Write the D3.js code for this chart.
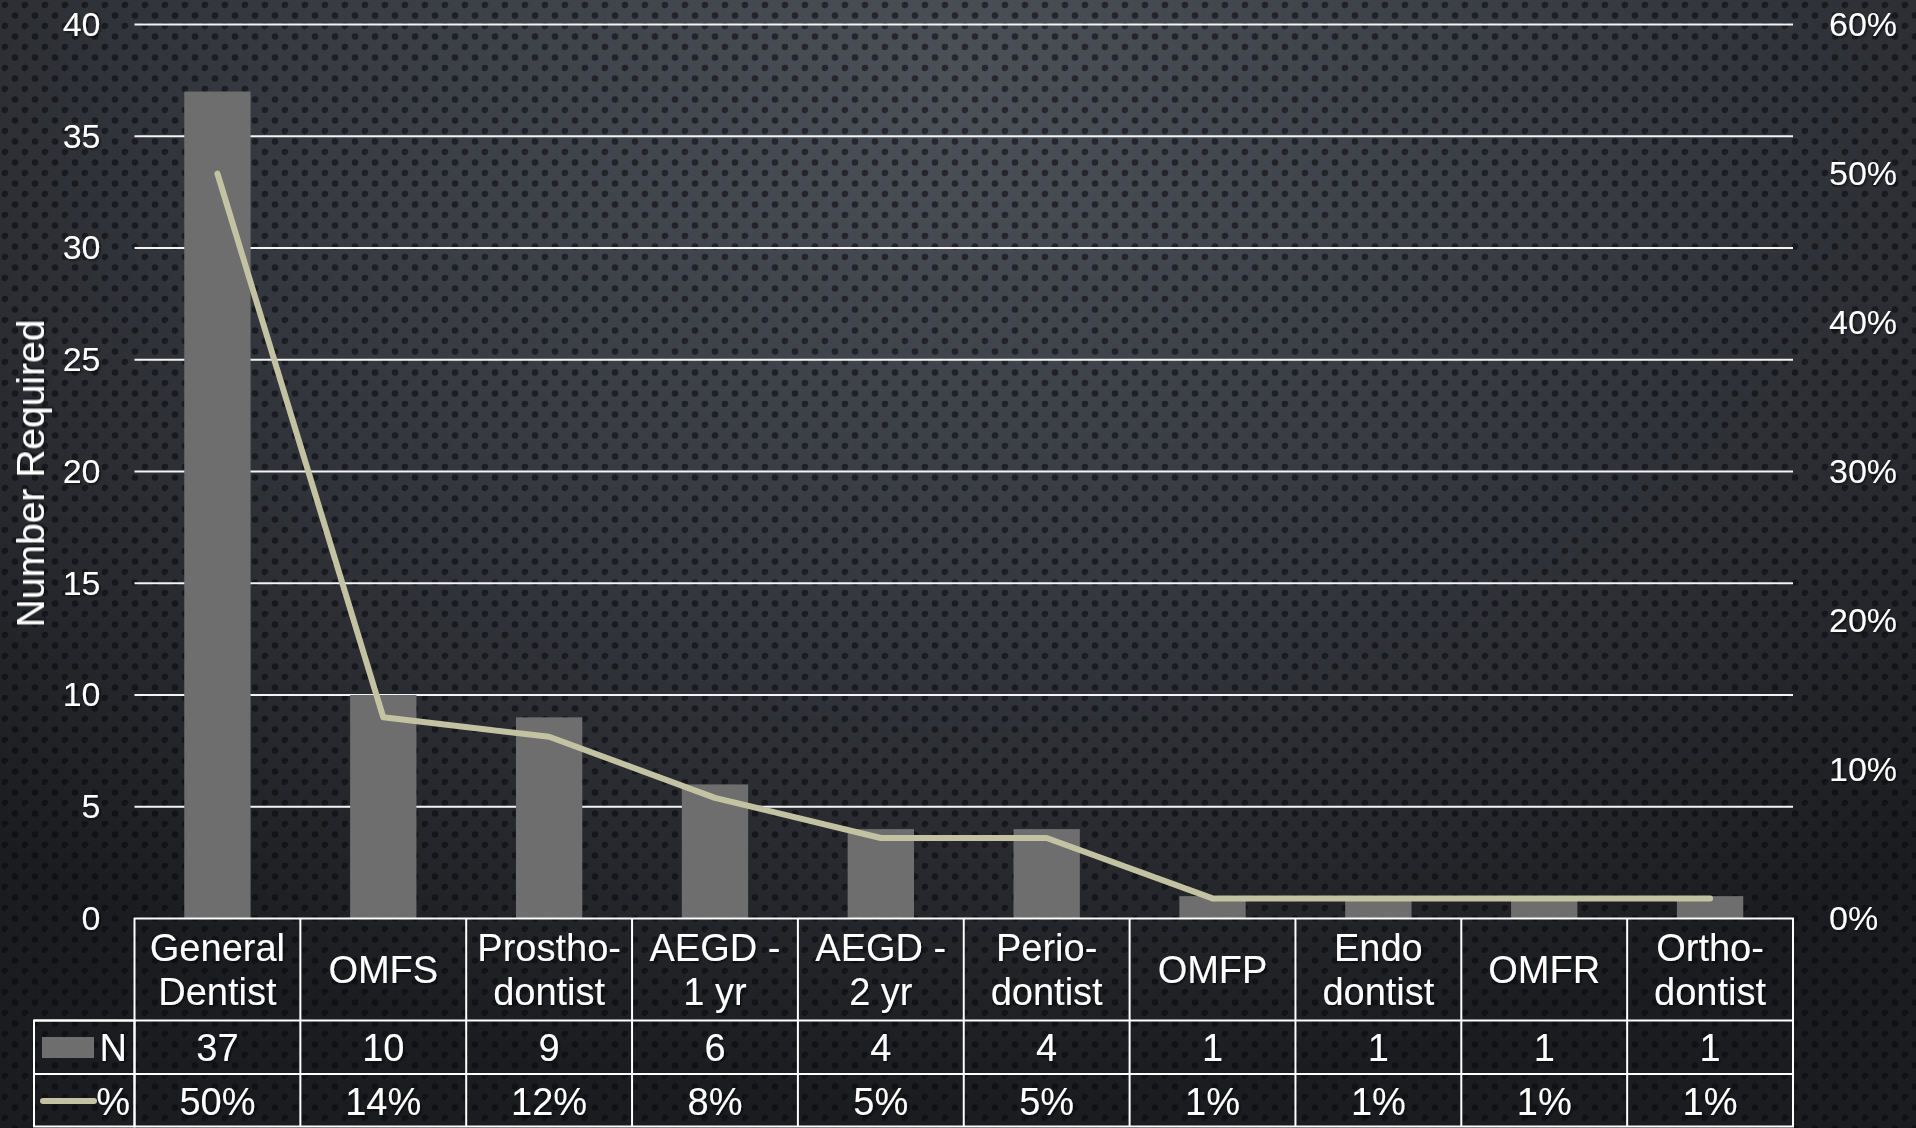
<!DOCTYPE html>
<html>
<head>
<meta charset="utf-8">
<script src="https://cdn.jsdelivr.net/npm/d3@7"></script>
<style>
  html, body { margin: 0; padding: 0; background: #2a2c31; overflow: hidden; }
  svg { display: block; }
  text { font-family: "Liberation Sans", "Open Sans", sans-serif; font-weight: 400; fill: #ffffff; }
</style>
</head>
<body>
<div id="chart"></div>
<script>
var width = 1916, height = 1128;

// data
var categories = ["General Dentist", "OMFS", "Prosthodontist", "AEGD - 1 yr", "AEGD - 2 yr",
                  "Periodontist", "OMFP", "Endodontist", "OMFR", "Orthodontist"];
var headerLines = [["General", "Dentist"], ["OMFS"], ["Prostho-", "dontist"], ["AEGD -", "1 yr"],
                   ["AEGD -", "2 yr"], ["Perio-", "dontist"], ["OMFP"], ["Endo", "dontist"],
                   ["OMFR"], ["Ortho-", "dontist"]];
var counts = [37, 10, 9, 6, 4, 4, 1, 1, 1, 1];
var shares = [0.50, 0.135, 0.122, 0.081, 0.054, 0.054, 0.0135, 0.0135, 0.0135, 0.0135];
var shareLabels = ["50%", "14%", "12%", "8%", "5%", "5%", "1%", "1%", "1%", "1%"];
var leftTicks = [0, 5, 10, 15, 20, 25, 30, 35, 40];
var rightTicks = [0, 0.1, 0.2, 0.3, 0.4, 0.5, 0.6];

var plotLeft = 134.5, plotRight = 1793, plotTop = 24.5, plotBottom = 918.5;
var rowN = 1020.5, rowPct = 1074, tableBottom = 1126.5, legendLeft = 34;
var tableFont = 38;

var svg = d3.select("#chart")
  .append("svg")
    .attr("width", width)
    .attr("height", height);

var defs = svg.append("defs");

var grad = defs.append("radialGradient")
  .attr("id", "bgGrad")
  .attr("cx", "50%").attr("cy", "8%")
  .attr("r", "75%")
  .attr("gradientTransform", "translate(0.5,0.08) scale(1,1.2) translate(-0.5,-0.08)");
grad.append("stop").attr("offset", "0%").attr("stop-color", "#4c5059");
grad.append("stop").attr("offset", "45%").attr("stop-color", "#383b42");
grad.append("stop").attr("offset", "100%").attr("stop-color", "#1b1c1f");

var pat = defs.append("pattern")
  .attr("id", "dots")
  .attr("patternUnits", "userSpaceOnUse")
  .attr("width", 20).attr("height", 21);
pat.append("circle").attr("cx", 5).attr("cy", 5).attr("r", 3.3)
  .attr("fill", "#07080a").attr("fill-opacity", 0.55);
pat.append("circle").attr("cx", 15).attr("cy", 15.5).attr("r", 3.3)
  .attr("fill", "#07080a").attr("fill-opacity", 0.55);
pat.append("circle").attr("cx", 7).attr("cy", 7).attr("r", 1.6)
  .attr("fill", "#ffffff").attr("fill-opacity", 0.03);

var shadow = defs.append("filter").attr("id", "shadow")
  .attr("x", "-10%").attr("y", "-10%").attr("width", "130%").attr("height", "140%");
shadow.append("feDropShadow")
  .attr("dx", 1.5).attr("dy", 1.5).attr("stdDeviation", 1)
  .attr("flood-color", "#000").attr("flood-opacity", 0.6);

svg.append("rect").attr("width", width).attr("height", height).attr("fill", "url(#bgGrad)");
svg.append("rect").attr("width", width).attr("height", height).attr("fill", "url(#dots)");

// scales
var x = d3.scaleBand()
  .domain(categories)
  .range([plotLeft, plotRight])
  .padding(0);

var y = d3.scaleLinear()
  .domain([0, 40])
  .range([plotBottom, plotTop]);

var yRight = d3.scaleLinear()
  .domain([0, 0.6])
  .range([plotBottom, plotTop]);

function mid(i) { return x(categories[i]) + x.bandwidth() / 2; }

// gridlines
svg.append("g")
  .selectAll("line")
  .data(leftTicks.slice(1))
  .enter()
  .append("line")
    .attr("x1", plotLeft)
    .attr("x2", plotRight)
    .attr("y1", function(d) { return y(d); })
    .attr("y2", function(d) { return y(d); })
    .attr("stroke", "#f4f4f4")
    .attr("stroke-width", 2);

// bars
var barW = x.bandwidth() * 0.4;
svg.append("g")
  .selectAll("rect")
  .data(counts)
  .enter()
  .append("rect")
    .attr("x", function(d, i) { return mid(i) - barW / 2; })
    .attr("y", function(d) { return y(d); })
    .attr("width", barW)
    .attr("height", function(d) { return y(0) - y(d); })
    .attr("fill", "#6e6e6e");

// line
var line = d3.line()
  .x(function(d, i) { return mid(i); })
  .y(function(d) { return yRight(d); });

svg.append("path")
  .datum(shares)
  .attr("d", line)
  .attr("fill", "none")
  .attr("stroke", "#c3c3a3")
  .attr("stroke-width", 6)
  .attr("stroke-linecap", "round")
  .attr("stroke-linejoin", "round");

// axes
var leftAxis = svg.append("g")
  .attr("transform", "translate(" + (plotLeft - 34) + ",0)")
  .call(d3.axisLeft(y).tickValues(leftTicks).tickSize(0).tickPadding(0));
leftAxis.select(".domain").remove();
leftAxis.selectAll("text")
  .attr("font-size", 34)
  .attr("fill", "#fff")
  .attr("font-family", null)
  .attr("filter", "url(#shadow)");

var rightAxis = svg.append("g")
  .attr("transform", "translate(" + (plotRight + 36) + ",0)")
  .call(d3.axisRight(yRight).tickValues(rightTicks).tickSize(0).tickPadding(0).tickFormat(d3.format(".0%")));
rightAxis.select(".domain").remove();
rightAxis.selectAll("text")
  .attr("font-size", 34)
  .attr("fill", "#fff")
  .attr("font-family", null)
  .attr("filter", "url(#shadow)");

svg.append("text")
  .attr("transform", "translate(44," + ((plotTop + plotBottom) / 2 + 2) + ") rotate(-90)")
  .attr("text-anchor", "middle")
  .attr("font-size", 39)
  .attr("filter", "url(#shadow)")
  .text("Number Required");

// data table
var table = svg.append("g")
  .attr("fill", "none")
  .attr("stroke", "#ffffff")
  .attr("stroke-width", 2);

table.append("rect")
  .attr("x", plotLeft).attr("y", plotBottom)
  .attr("width", plotRight - plotLeft).attr("height", tableBottom - plotBottom);
table.append("rect")
  .attr("x", legendLeft).attr("y", rowN)
  .attr("width", plotLeft - legendLeft).attr("height", tableBottom - rowN);
table.selectAll("line.col")
  .data(categories.slice(1))
  .enter()
  .append("line")
    .attr("class", "col")
    .attr("x1", function(d) { return x(d); })
    .attr("x2", function(d) { return x(d); })
    .attr("y1", plotBottom)
    .attr("y2", tableBottom);
[rowN, rowPct].forEach(function(yy) {
  table.append("line")
    .attr("x1", legendLeft).attr("x2", plotRight)
    .attr("y1", yy).attr("y2", yy);
});

// header cells, one text per line
var headerRows = [];
headerLines.forEach(function(lines, i) {
  lines.forEach(function(s, j) {
    headerRows.push({i: i, text: s, y: lines.length == 1 ? 983 : 961 + j * 44});
  });
});

svg.append("g").attr("filter", "url(#shadow)")
  .selectAll("text")
  .data(headerRows)
  .enter()
  .append("text")
    .attr("text-anchor", "middle")
    .attr("font-size", tableFont)
    .attr("x", function(d) { return mid(d.i); })
    .attr("y", function(d) { return d.y; })
    .text(function(d) { return d.text; });

svg.append("g").attr("filter", "url(#shadow)")
  .selectAll("text")
  .data(counts)
  .enter()
  .append("text")
    .attr("text-anchor", "middle")
    .attr("font-size", tableFont)
    .attr("x", function(d, i) { return mid(i); })
    .attr("y", 1061)
    .text(function(d) { return d; });

svg.append("g").attr("filter", "url(#shadow)")
  .selectAll("text")
  .data(shareLabels)
  .enter()
  .append("text")
    .attr("text-anchor", "middle")
    .attr("font-size", tableFont)
    .attr("x", function(d, i) { return mid(i); })
    .attr("y", 1115)
    .text(function(d) { return d; });

// legend keys in the table
svg.append("rect")
  .attr("x", 42).attr("y", 1037)
  .attr("width", 52).attr("height", 21)
  .attr("fill", "#6e6e6e");
svg.append("text")
  .attr("x", 127).attr("y", 1061)
  .attr("text-anchor", "end")
  .attr("font-size", tableFont)
  .attr("filter", "url(#shadow)")
  .text("N");
svg.append("line")
  .attr("x1", 43).attr("x2", 94)
  .attr("y1", 1101).attr("y2", 1101)
  .attr("stroke", "#c3c3a3")
  .attr("stroke-width", 6)
  .attr("stroke-linecap", "round");
svg.append("text")
  .attr("x", 130).attr("y", 1115)
  .attr("text-anchor", "end")
  .attr("font-size", tableFont)
  .attr("filter", "url(#shadow)")
  .text("%");
</script>
</body>
</html>
